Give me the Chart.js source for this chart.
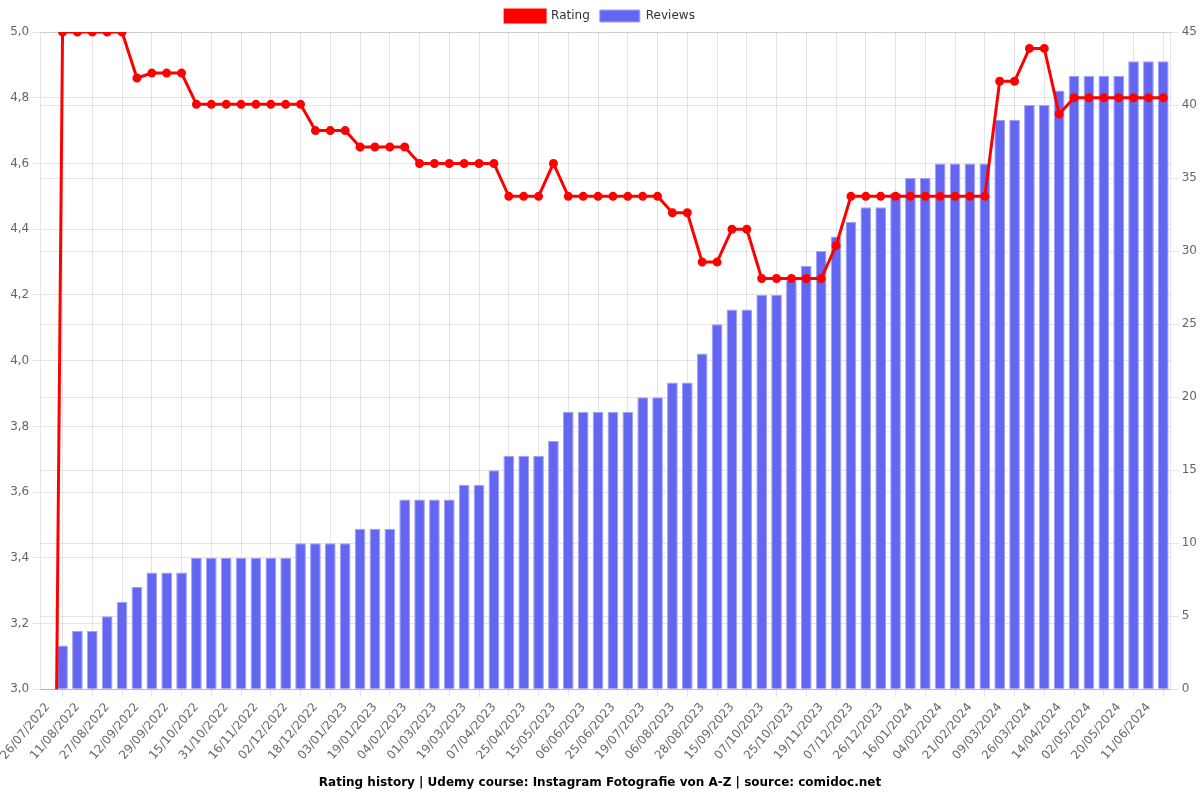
<!DOCTYPE html>
<html>
<head>
<meta charset="utf-8">
<script src="https://cdn.jsdelivr.net/npm/chart.js@4"></script>
<style>
  html, body { margin: 0; padding: 0; background: #fff; }
  #wrap { width: 1200px; height: 800px; }
</style>
</head>
<body>
<div id="wrap"><canvas id="chart"></canvas></div>
<script>
// dates (only every other one is shown on the axis)
const dates = [
  '26/07/2022', '03/08/2022', '11/08/2022', '19/08/2022', '27/08/2022', '04/09/2022',
  '12/09/2022', '20/09/2022', '29/09/2022', '07/10/2022', '15/10/2022', '23/10/2022',
  '31/10/2022', '08/11/2022', '16/11/2022', '24/11/2022', '02/12/2022', '10/12/2022',
  '18/12/2022', '26/12/2022', '03/01/2023', '11/01/2023', '19/01/2023', '27/01/2023',
  '04/02/2023', '16/02/2023', '01/03/2023', '10/03/2023', '19/03/2023', '28/03/2023',
  '07/04/2023', '16/04/2023', '25/04/2023', '05/05/2023', '15/05/2023', '26/05/2023',
  '06/06/2023', '15/06/2023', '25/06/2023', '07/07/2023', '19/07/2023', '28/07/2023',
  '06/08/2023', '17/08/2023', '28/08/2023', '06/09/2023', '15/09/2023', '26/09/2023',
  '07/10/2023', '16/10/2023', '25/10/2023', '07/11/2023', '19/11/2023', '28/11/2023',
  '07/12/2023', '16/12/2023', '26/12/2023', '06/01/2024', '16/01/2024', '25/01/2024',
  '04/02/2024', '12/02/2024', '21/02/2024', '29/02/2024', '09/03/2024', '17/03/2024',
  '26/03/2024', '04/04/2024', '14/04/2024', '23/04/2024', '02/05/2024', '11/05/2024',
  '20/05/2024', '31/05/2024', '11/06/2024', '20/06/2024'
];

const rating = [
  0, 5, 5, 5, 5, 5, 4.86, 4.875, 4.875, 4.875,
  4.78, 4.78, 4.78, 4.78, 4.78, 4.78, 4.78, 4.78, 4.7, 4.7,
  4.7, 4.65, 4.65, 4.65, 4.65, 4.6, 4.6, 4.6, 4.6, 4.6,
  4.6, 4.5, 4.5, 4.5, 4.6, 4.5, 4.5, 4.5, 4.5, 4.5,
  4.5, 4.5, 4.45, 4.45, 4.3, 4.3, 4.4, 4.4, 4.25, 4.25,
  4.25, 4.25, 4.25, 4.35, 4.5, 4.5, 4.5, 4.5, 4.5, 4.5,
  4.5, 4.5, 4.5, 4.5, 4.85, 4.85, 4.95, 4.95, 4.75, 4.8,
  4.8, 4.8, 4.8, 4.8, 4.8, 4.8
];

const reviews = [
  0, 3, 4, 4, 5, 6, 7, 8, 8, 8,
  9, 9, 9, 9, 9, 9, 9, 10, 10, 10,
  10, 11, 11, 11, 13, 13, 13, 13, 14, 14,
  15, 16, 16, 16, 17, 19, 19, 19, 19, 19,
  20, 20, 21, 21, 23, 25, 26, 26, 27, 27,
  28, 29, 30, 31, 32, 33, 33, 34, 35, 35,
  36, 36, 36, 36, 39, 39, 40, 40, 41, 42,
  42, 42, 42, 43, 43, 43
];

Chart.defaults.font.family = "'DejaVu Sans', sans-serif";
Chart.defaults.font.size = 12;
Chart.defaults.color = '#666';

const ctx = document.getElementById('chart').getContext('2d');
new Chart(ctx, {
  type: 'bar',
  data: {
    labels: dates,
    datasets: [
      {
        type: 'line',
        label: 'Rating',
        data: rating,
        yAxisID: 'y',
        borderColor: '#ff0000',
        backgroundColor: '#ff0000',
        borderWidth: 3,
        pointRadius: 3,
        pointBackgroundColor: '#ff0000',
        pointBorderColor: '#ff0000',
        tension: 0
      },
      {
        type: 'bar',
        label: 'Reviews',
        data: reviews,
        yAxisID: 'y1',
        backgroundColor: '#6366f1',
        borderColor: 'rgba(160,162,245,1)',
        borderWidth: 1
      }
    ]
  },
  options: {
    responsive: true,
    maintainAspectRatio: false,
    animation: false,
    plugins: {
      legend: {
        position: 'top',
        labels: { color: '#333', boxWidth: 40, boxHeight: 12 }
      },
      title: {
        display: true,
        position: 'bottom',
        text: 'Rating history | Udemy course: Instagram Fotografie von A-Z | source: comidoc.net',
        color: '#000',
        font: { size: 12, weight: 'bold' },
        padding: { top: 10, bottom: 10 }
      }
    },
    scales: {
      x: {
        ticks: { maxRotation: 50, minRotation: 50 }
      },
      y: {
        position: 'left',
        min: 3,
        max: 5,
        ticks: {
          stepSize: 0.2,
          callback: v => v.toFixed(1).replace('.', ',')
        }
      },
      y1: {
        position: 'right',
        min: 0,
        max: 45,
        ticks: { stepSize: 5 }
      }
    }
  }
});
</script>
</body>
</html>
